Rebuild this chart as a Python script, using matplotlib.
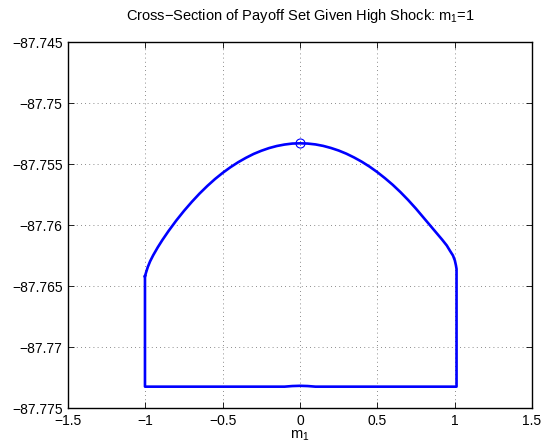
import numpy as np
import matplotlib.pyplot as plt
from matplotlib.ticker import FuncFormatter

plt.rcParams['font.family'] = ['Liberation Sans', 'DejaVu Sans']
plt.rcParams['mathtext.fontset'] = 'custom'
plt.rcParams['mathtext.rm'] = 'Liberation Sans'
plt.rcParams['mathtext.it'] = 'Liberation Sans'

# Upper boundary of the payoff set, left to right
arc_x = [-1.003, -0.995, -0.985, -0.970, -0.950, -0.920, -0.890, -0.850,
         -0.800, -0.750, -0.700, -0.650, -0.600, -0.550, -0.500, -0.450,
         -0.400, -0.350, -0.300, -0.250, -0.200, -0.150, -0.100, -0.050,
         0.000, 0.050, 0.100, 0.150, 0.200, 0.250, 0.300, 0.350,
         0.400, 0.450, 0.500, 0.550, 0.600, 0.650, 0.700, 0.750,
         0.800, 0.850, 0.890, 0.920, 0.950, 0.970, 0.990, 1.002,
         1.009, 1.013]
arc_y = [-87.76420, -87.76385, -87.76345, -87.76298, -87.76248, -87.76182, -87.76122, -87.76048,
         -87.75962, -87.75883, -87.75810, -87.75742, -87.75680, -87.75623, -87.75572, -87.75526,
         -87.75485, -87.75449, -87.75417, -87.75391, -87.75369, -87.75352, -87.75340, -87.75332,
         -87.75330, -87.75332, -87.75339, -87.75351, -87.75368, -87.75389, -87.75415, -87.75446,
         -87.75481, -87.75521, -87.75566, -87.75616, -87.75670, -87.75730, -87.75795, -87.75865,
         -87.75940, -87.76015, -87.76075, -87.76120, -87.76168, -87.76210, -87.76250, -87.76290,
         -87.76330, -87.76360]

# Lower boundary, traversed right to left and closed back to the arc
bottom_x = [1.013, 0.10, 0.05, 0.0, -0.05, -0.10, -1.003, -1.003]
bottom_y = [-87.77325, -87.77325, -87.77320, -87.77318, -87.77320, -87.77325, -87.77325, -87.76420]

peak_x = [0.0]
peak_y = [-87.7533]

xticks = [-1.5, -1, -0.5, 0, 0.5, 1, 1.5]
yticks = [-87.775, -87.77, -87.765, -87.76, -87.755, -87.75, -87.745]

boundary_x = arc_x + bottom_x
boundary_y = arc_y + bottom_y

fig = plt.figure(figsize=(5.41, 4.43), dpi=100)
ax = fig.add_axes([0.126, 0.079, 0.857, 0.826])

ax.plot(boundary_x, boundary_y, color='blue', lw=1.9, solid_joinstyle='round')
ax.plot(peak_x, peak_y, 'o', mfc='none', mec='blue', ms=6.5, mew=0.8)

ax.set_xlim(-1.5, 1.5)
ax.set_ylim(-87.775, -87.745)
ax.set_xticks(xticks)
ax.set_yticks(yticks)
fmt = FuncFormatter(lambda v, pos: ('%g' % round(v, 4)).replace('-', '\u2212'))
ax.xaxis.set_major_formatter(fmt)
ax.yaxis.set_major_formatter(fmt)
ax.tick_params(direction='in', length=4, width=0.6, labelsize=10, pad=4,
               top=True, right=True)
for s in ax.spines.values():
    s.set_linewidth(1.0)

ax.grid(True, color='0.4', linestyle=(0, (1, 4)), linewidth=0.6)

ax.set_title('Cross\u2212Section of Payoff Set Given High Shock: m$_1$=1', fontsize=10.5, pad=16)
ax.set_xlabel('m$_1$', fontsize=10.5, labelpad=1)

fig.savefig('out.png', dpi=100)
